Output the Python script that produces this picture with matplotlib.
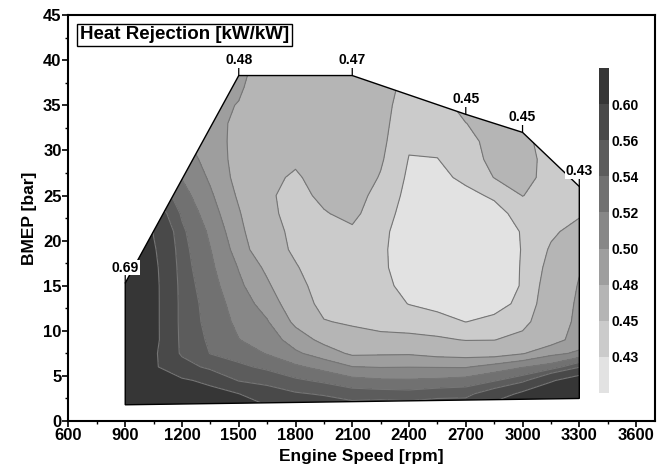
import numpy as np
import matplotlib
matplotlib.use("Agg")
import matplotlib.pyplot as plt
from matplotlib.patches import Polygon
from matplotlib.ticker import MultipleLocator

plt.rcParams['font.family'] = ['Liberation Sans', 'DejaVu Sans']
plt.rcParams['font.weight'] = 'bold'

# grid
speed = [900, 1050, 1200, 1350, 1500, 1650, 1800, 1950, 2100, 2250,
         2400, 2550, 2700, 2850, 3000, 3150, 3300]
bmep = [1.5, 3, 4.5, 6, 7.5, 9, 11, 13, 15, 17, 19, 21, 23, 25, 27, 29, 31, 33, 35, 37, 39]

# heat rejection [kW/kW], one list per speed (bottom -> top)
hr_by_speed = [
    [0.66, 0.66, 0.665, 0.67, 0.675, 0.68, 0.68, 0.685, 0.69, 0.69, 0.69, 0.69, 0.69, 0.69, 0.69, 0.69, 0.69, 0.69, 0.69, 0.69, 0.69],
    [0.64, 0.635, 0.628, 0.605, 0.607, 0.612, 0.612, 0.612, 0.612, 0.61, 0.605, 0.598, 0.58, 0.56, 0.548, 0.535, 0.525, 0.515, 0.51, 0.505, 0.50],
    [0.63, 0.62, 0.605, 0.575, 0.555, 0.553, 0.552, 0.552, 0.551, 0.549, 0.547, 0.544, 0.537, 0.528, 0.519, 0.51, 0.503, 0.497, 0.493, 0.49, 0.488],
    [0.62, 0.612, 0.592, 0.552, 0.5395, 0.537, 0.534, 0.532, 0.528, 0.524, 0.5205, 0.516, 0.509, 0.503, 0.497, 0.493, 0.49, 0.488, 0.486, 0.486, 0.486],
    [0.61, 0.601, 0.558, 0.544, 0.532, 0.5205, 0.515, 0.51, 0.504, 0.499, 0.4915, 0.486, 0.482, 0.477, 0.473, 0.472, 0.473, 0.475, 0.479, 0.483, 0.487],
    [0.605, 0.572, 0.553, 0.536, 0.5185, 0.511, 0.5015, 0.492, 0.4835, 0.4755, 0.462, 0.459, 0.4545, 0.453, 0.4545, 0.459, 0.461, 0.463, 0.465, 0.467, 0.468],
    [0.585, 0.5625, 0.5435, 0.5235, 0.5035, 0.4905, 0.4755, 0.4665, 0.459, 0.452, 0.446, 0.4445, 0.4435, 0.4435, 0.4475, 0.453, 0.458, 0.461, 0.464, 0.466, 0.467],
    [0.575, 0.558, 0.536, 0.513, 0.49, 0.4745, 0.4515, 0.4415, 0.438, 0.4365, 0.437, 0.441, 0.4485, 0.4545, 0.458, 0.461, 0.463, 0.465, 0.467, 0.468, 0.469],
    [0.57, 0.5505, 0.526, 0.5005, 0.4765, 0.461, 0.4465, 0.4385, 0.4345, 0.4335, 0.4355, 0.4465, 0.4555, 0.4605, 0.4635, 0.4655, 0.467, 0.468, 0.469, 0.47, 0.47],
    [0.575, 0.549, 0.5225, 0.499, 0.4775, 0.4555, 0.4435, 0.4375, 0.434, 0.4325, 0.4325, 0.4335, 0.437, 0.4415, 0.4485, 0.4525, 0.455, 0.4565, 0.457, 0.459, 0.461],
    [0.572, 0.5475, 0.522, 0.4995, 0.478, 0.4555, 0.4405, 0.4295, 0.4255, 0.4235, 0.4225, 0.4225, 0.4235, 0.425, 0.4265, 0.4292, 0.4325, 0.436, 0.44, 0.443, 0.446],
    [0.575, 0.5525, 0.5235, 0.499, 0.4735, 0.4535, 0.4355, 0.4255, 0.421, 0.419, 0.4185, 0.4185, 0.419, 0.4205, 0.4245, 0.4295, 0.435, 0.44, 0.444, 0.447, 0.449],
    [0.575, 0.554, 0.527, 0.4985, 0.4715, 0.449, 0.4298, 0.4215, 0.4175, 0.416, 0.4155, 0.4165, 0.419, 0.4245, 0.4345, 0.4405, 0.445, 0.4498, 0.455, 0.459, 0.462],
    [0.62, 0.575, 0.538, 0.5075, 0.4705, 0.4495, 0.4345, 0.4235, 0.419, 0.417, 0.4165, 0.418, 0.4225, 0.433, 0.4505, 0.4555, 0.4555, 0.455, 0.455, 0.455, 0.455],
    [0.64, 0.61, 0.553, 0.5185, 0.4785, 0.4575, 0.4425, 0.4345, 0.4315, 0.4315, 0.431, 0.4315, 0.438, 0.4505, 0.4565, 0.4575, 0.4555, 0.4525, 0.45, 0.45, 0.45],
    [0.66, 0.635, 0.595, 0.5285, 0.4945, 0.4705, 0.4685, 0.4655, 0.4625, 0.4575, 0.4525, 0.4465, 0.442, 0.441, 0.443, 0.443, 0.441, 0.44, 0.44, 0.44, 0.44],
    [0.68, 0.66, 0.625, 0.558, 0.5035, 0.4895, 0.4845, 0.4835, 0.4815, 0.4785, 0.4695, 0.4575, 0.4475, 0.438, 0.431, 0.428, 0.428, 0.428, 0.428, 0.428, 0.428],
]

# operating envelope
env_speed = [900, 900, 1500, 2100, 2700, 3000, 3300, 3300]
env_bmep = [1.8, 15.3, 38.3, 38.3, 34.0, 32.0, 26.0, 2.5]

# values labelled on the envelope
lab_speed = [900, 1500, 2100, 2700, 3000, 3300]
lab_bmep = [15.3, 38.3, 38.3, 34.0, 32.0, 26.0]
lab_text = ['0.69', '0.48', '0.47', '0.45', '0.45', '0.43']

levels = [0.40, 0.43, 0.45, 0.48, 0.50, 0.52, 0.54, 0.56, 0.60, 0.72]
greys = ['#e2e2e2', '#cbcbcb', '#b5b5b5', '#9e9e9e', '#878787',
         '#717171', '#5c5c5c', '#494949', '#363636']

fig = plt.figure(figsize=(6.68, 4.72), dpi=100)
ax = fig.add_axes([0.1025, 0.108, 0.878, 0.860])

X, Y = np.meshgrid(speed, bmep)
Z = np.array(hr_by_speed).T

env = Polygon(np.column_stack([env_speed, env_bmep]), closed=True,
              fc='none', ec='black', lw=1.0, zorder=3)
ax.add_patch(env)

cs = ax.contourf(X, Y, Z, levels=levels, colors=greys, zorder=1)
cs.set_clip_path(env)
cl = ax.contour(X, Y, Z, levels=levels[1:-1], colors='#757575', linewidths=0.8, zorder=2)
cl.set_clip_path(env)

for sx, by, t in zip(lab_speed, lab_bmep, lab_text):
    ax.annotate(t, xy=(sx, by), xytext=(0, 6), textcoords='offset points',
                ha='center', va='bottom', fontsize=10, fontweight='bold',
                bbox=dict(fc='white', ec='none', pad=0.5),
                arrowprops=dict(arrowstyle='-', lw=0.9, color='black',
                                shrinkA=0, shrinkB=0), zorder=5)

ax.text(0.02, 0.951, 'Heat Rejection [kW/kW]', transform=ax.transAxes,
        ha='left', va='center', fontsize=13.5, fontweight='bold',
        bbox=dict(boxstyle='square,pad=0.15', fc='white', ec='black', lw=1.0))

ax.set_xlim(600, 3700)
ax.set_ylim(0, 45)
ax.xaxis.set_major_locator(MultipleLocator(300))
ax.xaxis.set_minor_locator(MultipleLocator(150))
ax.yaxis.set_major_locator(MultipleLocator(5))
ax.yaxis.set_minor_locator(MultipleLocator(2.5))
ax.tick_params(which='major', direction='out', length=4, width=1.2, labelsize=12, pad=1)
ax.tick_params(which='minor', direction='out', length=2.5, width=1)
for lab in ax.get_xticklabels() + ax.get_yticklabels():
    lab.set_fontweight('bold')
for sp in ax.spines.values():
    sp.set_linewidth(1.5)
ax.set_xlabel('Engine Speed [rpm]', fontsize=12.5, fontweight='bold', labelpad=4)
ax.set_ylabel('BMEP [bar]', fontsize=12.5, fontweight='bold', labelpad=4)

cax = fig.add_axes([0.8967, 0.1674, 0.015, 0.6886])
cb = fig.colorbar(cs, cax=cax, spacing='uniform')
cb.set_ticks(levels[1:-1])
cb.set_ticklabels(['%.2f' % v for v in levels[1:-1]])
cb.outline.set_visible(False)
cax.tick_params(length=0, labelsize=10, pad=2)
for lab in cax.get_yticklabels():
    lab.set_fontweight('bold')

fig.savefig('out.png', dpi=100)
